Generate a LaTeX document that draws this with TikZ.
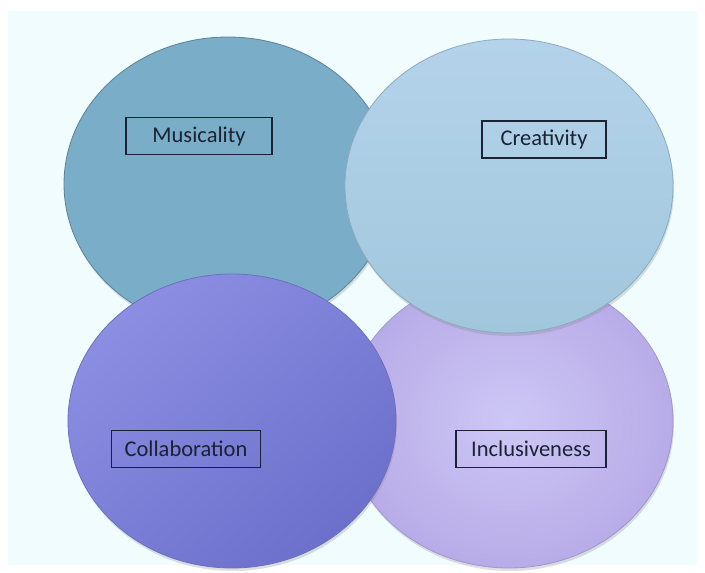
\documentclass[tikz,border=0pt]{standalone}
\usepackage{fontspec}
\setmainfont{Carlito}
\usetikzlibrary{shapes.geometric,shadows}

\definecolor{bgcol}{RGB}{240,252,253}
\definecolor{musfill}{RGB}{122,173,200}
\definecolor{musedge}{RGB}{92,130,152}
\definecolor{creTop}{RGB}{180,211,234}
\definecolor{creBot}{RGB}{161,199,221}
\definecolor{creedge}{RGB}{140,170,192}
\definecolor{colA}{RGB}{140,142,226}
\definecolor{colB}{RGB}{108,112,203}
\definecolor{coledge}{RGB}{110,112,190}
\definecolor{incIn}{RGB}{205,199,245}
\definecolor{incOut}{RGB}{184,172,232}
\definecolor{incedge}{RGB}{160,150,210}
\definecolor{labelink}{RGB}{26,34,52}

\tikzset{
  blob/.style={ellipse, minimum width=328pt, minimum height=294pt, inner sep=0pt,
    line width=0.8pt,
    drop shadow={opacity=0.25, shadow xshift=1pt, shadow yshift=-3pt}},
  tag/.style={draw=labelink, line width=1.3pt, text=labelink, inner sep=0pt,
    minimum height=37pt, font=\fontsize{22.5}{27}\selectfont}
}

\begin{document}
\begin{tikzpicture}[x=1pt, y=-1pt]
  % page and pale backdrop
  \fill[white] (0,0) rectangle (705,573);
  \useasboundingbox (0,0) rectangle (705,573);
  \fill[bgcol] (8,11) rectangle (697,565);

  % the four overlapping ellipses, back to front
  \node[blob, fill=musfill, draw=musedge] (mus) at (228,184) {};
  \node[blob, inner color=incIn, outer color=incOut, draw=incedge] (inc) at (509,421) {};
  \node[blob, top color=creTop, bottom color=creBot, draw=creedge] (cre) at (509,186) {};
  \node[blob, shading=axis, top color=colA, bottom color=colB, shading angle=40,
        draw=coledge] (col) at (232,421) {};

  % framed labels
  \node[tag, minimum width=146pt] (lmus) at (199,136) {Musicality};
  \node[tag, minimum width=124pt] (lcre) at (544,139.5) {Creativity};
  \node[tag, minimum width=149pt] (lcol) at (186,449) {Collaboration};
  \node[tag, minimum width=150pt] (linc) at (531,449) {Inclusiveness};
\end{tikzpicture}
\end{document}
